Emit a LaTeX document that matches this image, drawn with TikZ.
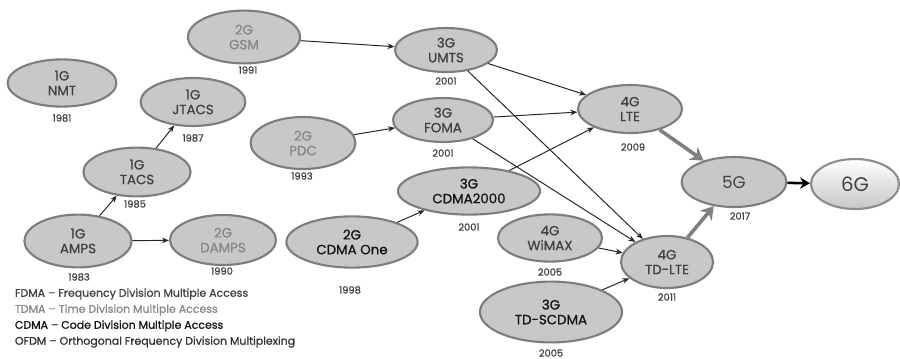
\documentclass[tikz,border=0pt]{standalone}
\usepackage{fontspec}
\setmainfont{Poppins}
\newfontfamily\genfont[FakeBold=0.9]{Poppins}
\usetikzlibrary{shapes.geometric,arrows.meta,positioning}

\definecolor{cellfill}{RGB}{200,200,200}
\definecolor{celledge}{RGB}{125,125,125}
\definecolor{fdmatext}{RGB}{65,65,65}
\definecolor{tdmatext}{RGB}{135,135,135}
\definecolor{cdmatext}{RGB}{20,20,20}
\definecolor{ofdmtext}{RGB}{50,50,50}

\tikzset{
	gen/.style={ellipse, draw=celledge, line width=1.5pt, fill=cellfill,
		minimum width=2.62cm, minimum height=1.2cm, inner sep=0pt,
		align=center, font=\genfont\fontsize{9.5}{10.5}\selectfont, text=fdmatext},
	year/.style={font=\genfont\fontsize{7}{8}\selectfont, text=black!75},
	link/.style={-{Stealth[length=5pt,width=4pt]}, line width=0.7pt, black!85},
	biglink/.style={-{Stealth[length=9pt,width=11pt]}, line width=2.6pt, black!50},
	legend/.style={anchor=west, font=\genfont\fontsize{7.8}{9}\selectfont}
}

\begin{document}
\begin{tikzpicture}[x=0.025cm, y=-0.025cm]
	\useasboundingbox (0,0) rectangle (900,358);
	% first generation
	\node[gen, minimum width=2.72cm, minimum height=1.18cm] (nmt) at (62,83) {1G\\NMT};
	\node[year] (nmtY) at (62,118) {1981};
	\node[gen, minimum height=1.2cm] (jtacs) at (193,102) {1G\\JTACS};
	\node[year] (jtacsY) at (193,138) {1987};
	\node[gen, minimum width=2.68cm, minimum height=1.22cm] (tacs) at (137,172) {1G\\TACS};
	\node[year] (tacsY) at (135,204) {1985};
	\node[gen, minimum width=2.68cm, minimum height=1.32cm] (amps) at (78,241) {1G\\AMPS};
	\node[year] (ampsY) at (79,277) {1983};
	% second generation
	\node[gen, text=tdmatext, minimum width=2.8cm, minimum height=1.32cm] (gsm) at (244,37) {2G\\GSM};
	\node[year] (gsmY) at (248,70) {1991};
	\node[gen, text=tdmatext, minimum height=1.3cm] (pdc) at (303,143) {2G\\PDC};
	\node[year] (pdcY) at (302,176) {1993};
	\node[gen, text=tdmatext, minimum width=2.65cm, minimum height=1.25cm] (damps) at (223,240) {2G\\DAMPS};
	\node[year] (dampsY) at (222,271) {1990};
	\node[gen, text=cdmatext, minimum width=3.28cm, minimum height=1.28cm] (cdmaone) at (352,242) {2G\\CDMA One};
	\node[year] (cdmaoneY) at (350,290) {1998};
	% third generation
	\node[gen, minimum width=2.55cm, minimum height=1.1cm] (umts) at (446,50) {3G\\UMTS};
	\node[year] (umtsY) at (446,81) {2001};
	\node[gen, minimum width=2.5cm, minimum height=1.1cm] (foma) at (443,120) {3G\\FOMA};
	\node[year] (fomaY) at (443,153) {2001};
	\node[gen, text=cdmatext, minimum width=3.55cm, minimum height=1.18cm] (cdmatwo) at (469,191) {3G\\CDMA2000};
	\node[year] (cdmatwoY) at (469,227) {2001};
	\node[gen, text=cdmatext, minimum width=3.55cm, minimum height=1.52cm] (tdscdma) at (551,312) {3G\\TD-SCDMA};
	\node[year] (tdscdmaY) at (551,353) {2005};
	% fourth generation
	\node[gen, minimum width=2.6cm, minimum height=1.18cm] (wimax) at (550,238) {4G\\WiMAX};
	\node[year] (wimaxY) at (550,272) {2005};
	\node[gen, minimum width=2.6cm, minimum height=1.2cm] (lte) at (630,109) {4G\\LTE};
	\node[year] (lteY) at (633,147) {2009};
	\node[gen, minimum width=2.3cm, minimum height=1.3cm] (tdlte) at (667,262) {4G\\TD-LTE};
	\node[year] (tdlteY) at (667,297) {2011};
	% 5G and 6G
	\node[gen, minimum width=2.62cm, minimum height=1.25cm, font=\fontsize{12}{13}\selectfont] (fiveg) at (734,182) {5G};
	\node[year] (fivegY) at (740,216) {2017};
	\node[gen, draw=black!45, top color=white, bottom color=black!22, minimum width=2.2cm,
		minimum height=1.25cm, font=\fontsize{14}{15}\selectfont] (sixg) at (855,184) {6G};
	% evolution links
	\draw[link] (amps) -- (tacs);
	\draw[link] (tacs) -- (jtacs);
	\draw[link] (amps) -- (damps);
	\draw[link] (gsm) -- (umts);
	\draw[link] (pdc) -- (foma);
	\draw[link] (cdmaone) -- (cdmatwo);
	\draw[link] (umts) -- (lte);
	\draw[link] (umts) -- (tdlte);
	\draw[link] (foma) -- (lte);
	\draw[link] (foma) -- (tdlte);
	\draw[link] (cdmatwo) -- (lte);
	\draw[link] (wimax) -- (tdlte);
	\draw[link] (tdscdma) -- (tdlte);
	\draw[biglink] (lte) -- (fiveg);
	\draw[biglink] (tdlte) -- (fiveg);
	\draw[-{Stealth[length=7pt,width=8pt]}, line width=1.8pt, black] (fiveg) -- (sixg);
	% legend
	\node[legend, text=fdmatext] (fdma) at (10,294) {FDMA – Frequency Division Multiple Access};
	\node[legend, text=tdmatext] (tdma) at (10,310) {TDMA – Time Division Multiple Access};
	\node[legend, text=cdmatext] (cdma) at (10,326) {CDMA – Code Division Multiple Access};
	\node[legend, text=ofdmtext] (ofdm) at (10,342) {OFDM – Orthogonal Frequency Division Multiplexing};
\end{tikzpicture}
\end{document}
